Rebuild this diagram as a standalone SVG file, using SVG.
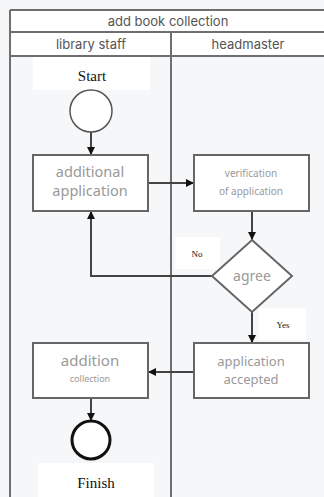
<svg xmlns="http://www.w3.org/2000/svg" width="324" height="497" viewBox="0 0 324 497">
<defs>
<marker id="ah" viewBox="0 0 10 10" refX="10" refY="5" markerWidth="8" markerHeight="8" markerUnits="userSpaceOnUse" orient="auto">
<path d="M0,0 L10,5 L0,10 z" fill="#111"/>
</marker>
<style>
.frame{fill:none;stroke:#6f6f6f;stroke-width:2}
.box{fill:#fff;stroke:#666;stroke-width:2}
.conn{fill:none;stroke:#444;stroke-width:2}
.hdr{font-family:Inter,"Noto Sans",sans-serif;font-size:13px;fill:#555;text-anchor:middle}
.lbl{font-family:"Noto Sans",Roboto,sans-serif;fill:#999;text-anchor:middle}
.ser{font-family:"Liberation Serif",serif;fill:#111;text-anchor:middle}
.tag{fill:#fff}
</style>
</defs>
<rect x="0" y="0" width="324" height="497" fill="#f6f7f9"/>
<g id="pool">
<rect x="10" y="10" width="316" height="47" fill="#fff"/>
<path class="frame" d="M10,10 H326 M10,32 H326 M10,56 H326 M10,10 V497 M171,32 V497"/>
<text class="hdr" x="168" y="26">add book collection</text>
<text class="hdr" x="91" y="49">library staff</text>
<text class="hdr" x="248" y="49">headmaster</text>
</g>
<g id="connectors">
<path class="conn" d="M91,132 V155" marker-end="url(#ah)"/>
<path class="conn" d="M148,183 H194" marker-end="url(#ah)"/>
<path class="conn" d="M252,211 V240" marker-end="url(#ah)"/>
<path class="conn" d="M212,276 H91 V211" marker-end="url(#ah)"/>
<path class="conn" d="M252,312 V343" marker-end="url(#ah)"/>
<path class="conn" d="M194,372 H148" marker-end="url(#ah)"/>
<path class="conn" d="M91,398 V421" marker-end="url(#ah)"/>
</g>
<g id="start">
<rect class="tag" x="33" y="57" width="117" height="33"/>
<text class="ser" x="92" y="81" font-size="15">Start</text>
<circle cx="91" cy="111" r="21" fill="#fff" stroke="#555" stroke-width="1.5"/>
</g>
<g id="additional-application">
<rect class="box" x="33" y="155" width="115" height="56"/>
<text class="lbl" x="90" y="177" font-size="14.5">additional</text>
<text class="lbl" x="90" y="196" font-size="14.5">application</text>
</g>
<g id="verification">
<rect class="box" x="194" y="155" width="115" height="56"/>
<text class="lbl" x="251" y="177" font-size="10">verification</text>
<text class="lbl" x="251" y="195" font-size="10">of application</text>
</g>
<g id="no-label">
<rect class="tag" x="175" y="237" width="45" height="32"/>
<text class="ser" x="197" y="257" font-size="9">No</text>
</g>
<g id="agree">
<path d="M252,240 L292,276 L252,312 L212,276 Z" fill="#fff" stroke="#666" stroke-width="2"/>
<text class="lbl" x="252" y="281" font-size="14">agree</text>
</g>
<g id="yes-label">
<rect class="tag" x="259" y="308" width="47" height="32"/>
<text class="ser" x="283" y="328" font-size="9">Yes</text>
</g>
<g id="application-accepted">
<rect class="box" x="194" y="343" width="115" height="55"/>
<text class="lbl" x="251" y="366" font-size="13">application</text>
<text class="lbl" x="251" y="384" font-size="13">accepted</text>
</g>
<g id="addition-collection">
<rect class="box" x="33" y="343" width="115" height="55"/>
<text class="lbl" x="90" y="366" font-size="15">addition</text>
<text class="lbl" x="90" y="382" font-size="9">collection</text>
</g>
<g id="finish">
<circle cx="91" cy="440" r="19" fill="#fff" stroke="#111" stroke-width="3"/>
<rect class="tag" x="38" y="463" width="116" height="34"/>
<text class="ser" x="96" y="488" font-size="15">Finish</text>
</g>
</svg>
